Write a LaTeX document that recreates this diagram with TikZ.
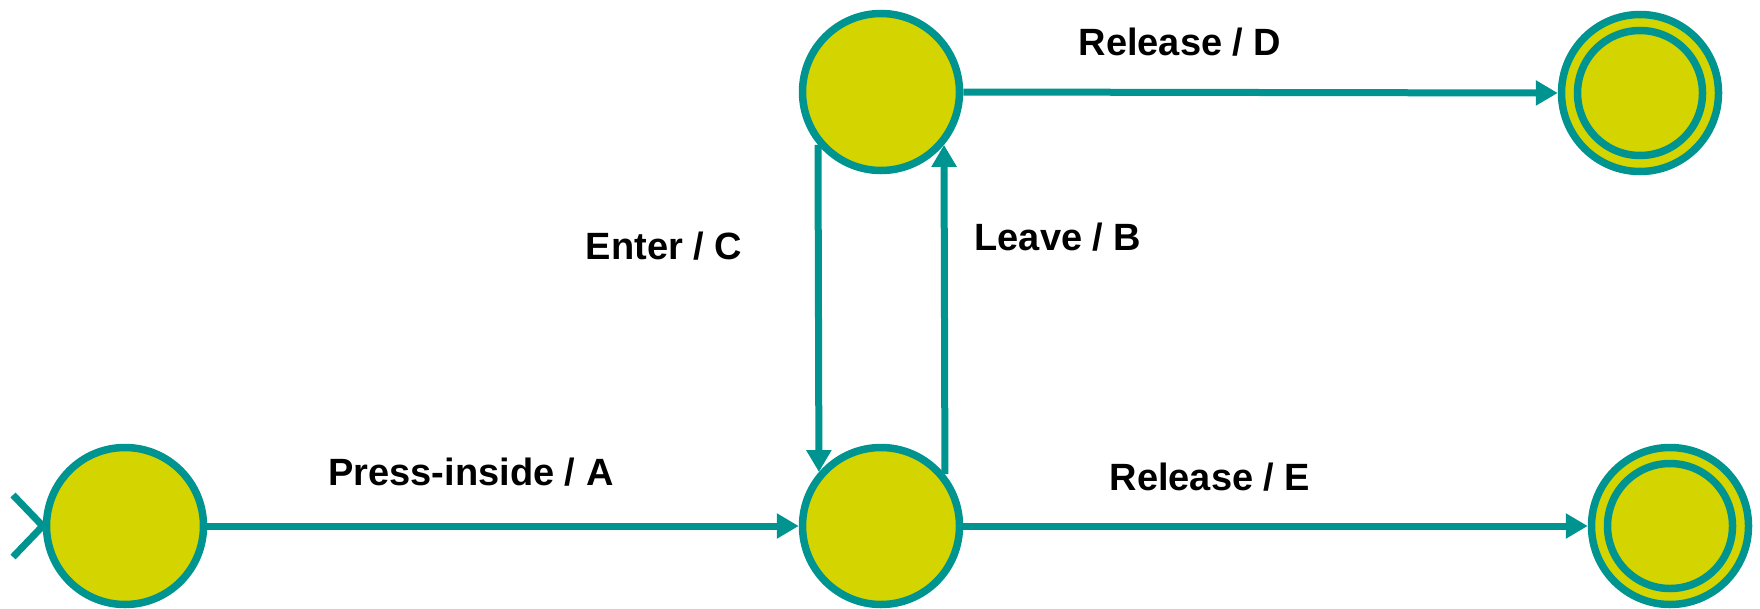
\documentclass[tikz,border=0pt]{standalone}
\usepackage{fontspec}
\setmainfont{Liberation Sans}
\usetikzlibrary{arrows.meta}
\definecolor{teal}{RGB}{0,148,144}
\definecolor{stfill}{RGB}{212,212,0}
\tikzset{
  state/.style={circle, draw=teal, fill=stfill, line width=7.5pt, minimum size=157pt, inner sep=0pt},
  ring/.style={draw=teal, line width=7.5pt},
  edge/.style={draw=teal, line width=7pt},
  arr/.style={edge, -{Triangle[length=22pt,width=24pt]}},
  lbl/.style={anchor=base, font=\fontsize{38}{40}\selectfont\bfseries, text=black, inner sep=0pt}
}
\begin{document}
\begin{tikzpicture}[x=1pt,y=-1pt]
\useasboundingbox (0,0) rectangle (1760,608);
\node[state] (S) at (125,526) {};
\node[state] (M) at (881,526) {};
\node[state] (T) at (881,92) {};
\node[state] (F1) at (1640,93) {};
\node[state] (F2) at (1670,526) {};
\draw[ring] (F1.center) circle (62.5);
\draw[ring] (F2.center) circle (62.5);
% initial marker
\coordinate (i1) at (13,495);
\coordinate (i2) at (13,557);
\draw[edge] (i1) -- (S.west) -- (i2);
% transitions
\draw[arr] (S.east) -- (M.west);
\draw[arr] (M.east) -- (F2.west);
\draw[arr] (T.east) -- (F1.west);
\draw[arr] (T.220.9) -- (M.139.1);
\draw[arr] (M.39.8) -- (T.320.2);
% labels
\node[lbl] (lA) at (471,485) {Press-inside / A};
\node[lbl] (lB) at (1058,250) {Leave / B};
\node[lbl] (lC) at (664,259) {Enter / C};
\node[lbl] (lD) at (1180,55) {Release / D};
\node[lbl] (lE) at (1210,490) {Release / E};
\end{tikzpicture}
\end{document}
